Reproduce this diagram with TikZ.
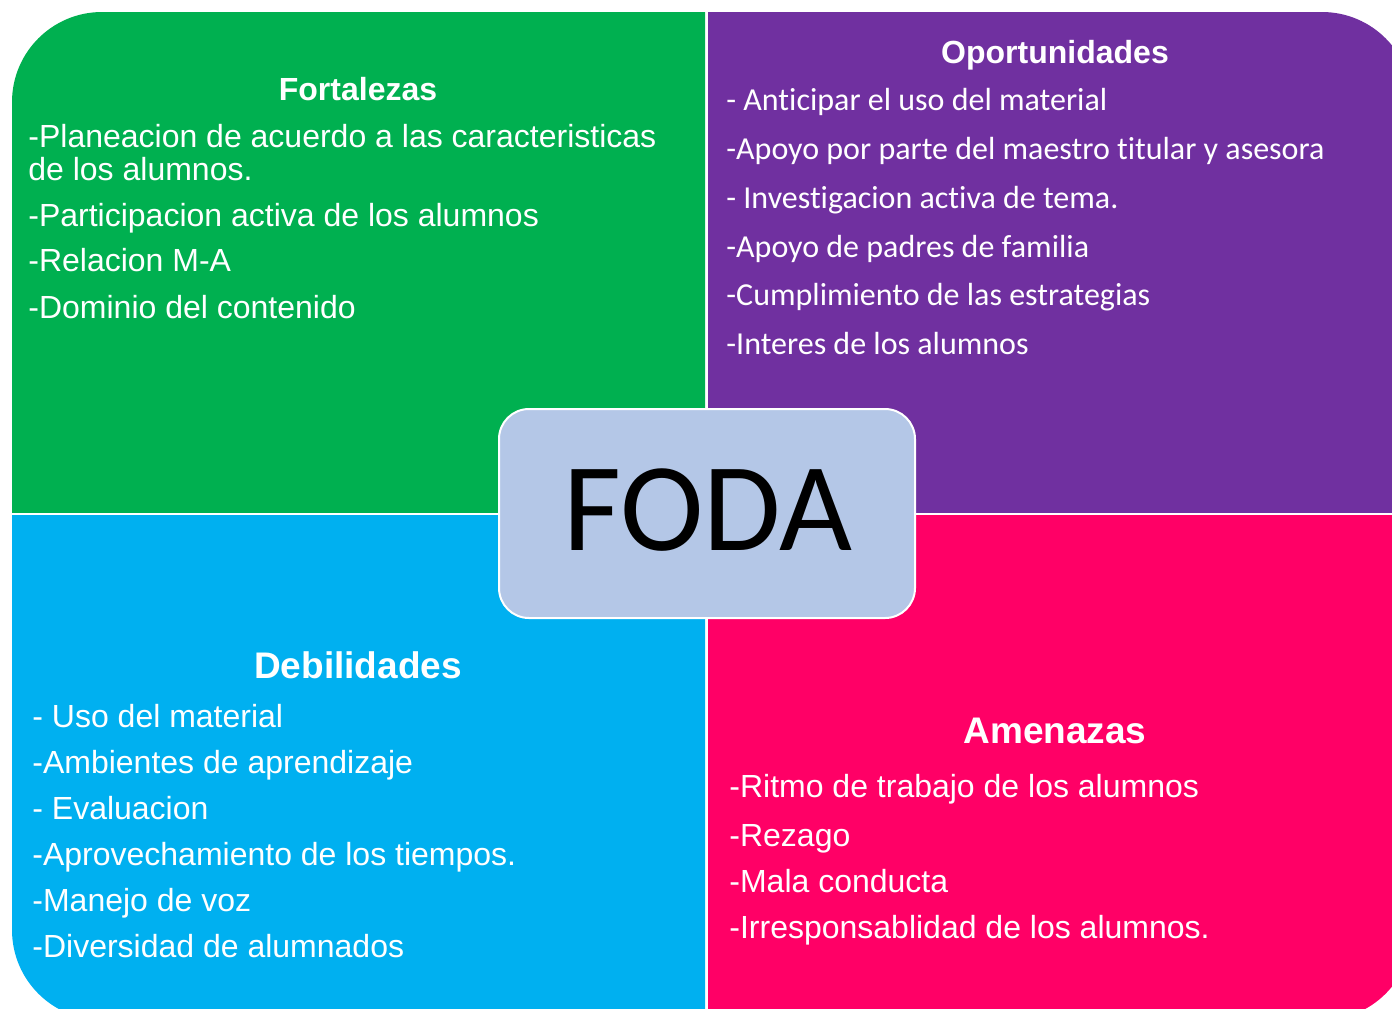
\documentclass[tikz,border=0pt]{standalone}
\usepackage{fontspec}
\setmainfont{Liberation Sans}
\newfontfamily\calibri[Ligatures=NoCommon]{Carlito}
\usepackage{tikz}
\usetikzlibrary{calc}
\usepackage{xcolor}
\definecolor{fgreen}{HTML}{00B050}
\definecolor{fpurple}{HTML}{7030A0}
\definecolor{fblue}{HTML}{00B0F0}
\definecolor{fpink}{HTML}{FF0066}
\definecolor{fcenter}{HTML}{B4C7E7}

\begin{document}
\begin{tikzpicture}[x=0.5pt,y=-0.5pt]
\tikzset{item/.style={anchor=base west, inner sep=0pt, text=white, font=\fontsize{16}{19}\selectfont}}
\tikzstyle{opitem} = [item, font=\calibri\fontsize{16}{19}\selectfont]
\tikzstyle{title} = [anchor=base, inner sep=0pt, text=white, font=\bfseries\fontsize{16}{19}\selectfont]
\tikzstyle{bigtitle} = [title, font=\bfseries\fontsize{18.5}{22}\selectfont]

\clip (0,0) rectangle (1392,1008);

% four quadrants cut out of one rounded box
\foreach \xa/\ya/\xb/\yb/\col in {12/12/705/512/fgreen, 708/12/1412/512/fpurple, 12/515/705/1020/fblue, 708/515/1412/1020/fpink}
{
\begin{scope}
\clip (\xa,\ya) rectangle (\xb,\yb);
\fill[\col, rounded corners=45pt] (12,12) rectangle (1412,1020);
\end{scope}
}

% center box
\node[draw=white, line width=1pt, fill=fcenter, rounded corners=15pt, inner sep=0pt, minimum width=208pt, minimum height=104.5pt] (foda) at (707,513.5) {};
\node[anchor=base, inner sep=0pt, font=\calibri\fontsize{63}{70}\selectfont] (fodalabel) at (708,550) {FODA};

% Fortalezas
\node[title] (fort) at (358,100) {Fortalezas};
\node[item] (f1) at (28,147) {-Planeacion de acuerdo a las caracteristicas};
\node[item] (f1b) at (28,180) {de los alumnos.};
\node[item] (f2) at (28,226) {-Participacion activa de los alumnos};
\node[item] (f3) at (28,271) {-Relacion M-A};
\node[item] (f4) at (28,318) {-Dominio del contenido};

% Oportunidades
\node[title] (opor) at (1055,63) {Oportunidades};
\node[opitem] (o1) at (726,110) {- Anticipar el uso del material};
\node[opitem] (o2) at (726,159) {-Apoyo por parte del maestro titular y asesora};
\node[opitem] (o3) at (726,208) {- Investigacion activa de tema.};
\node[opitem] (o4) at (726,257) {-Apoyo de padres de familia};
\node[opitem] (o5) at (726,305) {-Cumplimiento de las estrategias};
\node[opitem] (o6) at (726,354) {-Interes de los alumnos};

% Debilidades
\node[bigtitle] (debi) at (358,678) {Debilidades};
\node[item] (d1) at (32,727) {- Uso del material};
\node[item] (d2) at (32,773) {-Ambientes de aprendizaje};
\node[item] (d3) at (32,819) {- Evaluacion};
\node[item] (d4) at (32,865) {-Aprovechamiento de los tiempos.};
\node[item] (d5) at (32,911) {-Manejo de voz};
\node[item] (d6) at (32,957) {-Diversidad de alumnados};

% Amenazas
\node[bigtitle] (amen) at (1055,743) {Amenazas};
\node[item] (a1) at (729,797) {-Ritmo de trabajo de los alumnos};
\node[item] (a2) at (729,846) {-Rezago};
\node[item] (a3) at (729,892) {-Mala conducta};
\node[item] (a4) at (729,938) {-Irresponsablidad de los alumnos.};
\end{tikzpicture}
\end{document}
